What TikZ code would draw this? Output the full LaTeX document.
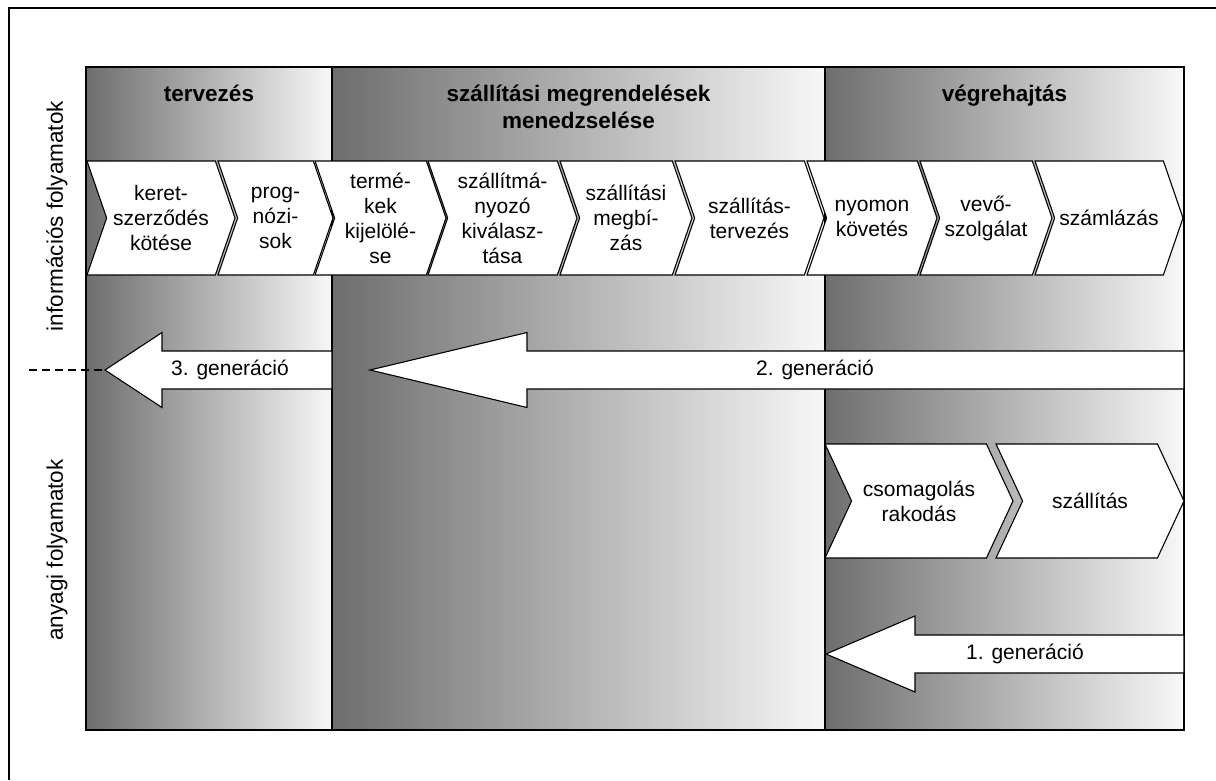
\documentclass[tikz,border=0pt]{standalone}
\usepackage{fontspec}
\setmainfont{Liberation Sans}
\usetikzlibrary{shapes.symbols,positioning}

\newcommand{\procfont}{\fontsize{21}{25}\selectfont}
\newcommand{\bigfont}{\fontsize{22.5}{27}\selectfont}

\begin{document}
\begin{tikzpicture}[x=1pt,y=-1pt,
      column_bg/.style={
         draw=black,
         line width=1.3pt,
         left color=black!57,
         right color=white!97!black,
         inner sep=0pt,
         outer sep=0pt,
         minimum height=663pt,
         anchor=north west},
      chevron/.style={
         signal,
         signal from=west,
         signal to=east,
         signal pointer angle=142,
         draw=black,
         fill=white,
         line width=1.1pt,
         minimum height=114pt,
         inner sep=0pt,
         align=center,
         font=\procfont},
      title/.style={
         font=\bigfont\bfseries,
         align=center,
         inner sep=0pt},
      gen_arrow/.style={
         draw=black,
         fill=white,
         line width=1.1pt},
      gen_label/.style={
         font=\procfont,
         inner sep=0pt},
      side_label/.style={
         font=\bigfont,
         rotate=90,
         inner sep=0pt}
]
      \useasboundingbox (0,0) rectangle (1216,780);

      % frame
      \draw[line width=2pt] (9,780) -- (9,8) -- (1216,8);

      % columns
      \node[column_bg,minimum width=246pt] (col1) at (86,67) {};
      \node[column_bg,minimum width=493pt,right=0pt of col1] (col2) {};
      \node[column_bg,minimum width=359pt,right=0pt of col2] (col3) {};

      \node[title,below=18pt of col1.north] (t1) {tervezés};
      \node[title,below=18pt of col2.north] (t2) {szállítási megrendelések\\menedzselése};
      \node[title,below=18pt of col3.north] (t3) {végrehajtás};

      % information flow
      \foreach \x/\w/\n/\txt in {% centre/width/name/text
        161/148/k1/{keret-\\szerződés\\kötése},
        275.5/115/k2/{prog-\\nózi-\\sok},
        380.5/131/k3/{termé-\\kek\\kijelölé-\\se},
        502.5/149/k4/{szállítmá-\\nyozó\\kiválasz-\\tása},
        626/132/k5/{szállítási\\megbí-\\zás},
        749.5/149/k6/{szállítás-\\tervezés},
        872/130/k7/{nyomon\\követés},
        986/132/k8/{vevő-\\szolgálat},
        1109/148/k9/{számlázás}}
      \node[chevron,minimum width=\w pt] (\n) at (\x,218) {\txt};

      % material flow
      \node[chevron,signal pointer angle=130,minimum width=188pt] (m1) at (919,501) {csomagolás\\rakodás};
      \node[chevron,signal pointer angle=130,minimum width=188pt] (m2) at (1090,501) {szállítás};

      % generations
      \foreach \tip/\back/\stop/\y/\hh in {% tip/head end/shaft end/y/half head
        105/162/332/370/37.5,
        370/527/1184/370/37.5,
        826/915/1184/654/38}
      \draw[gen_arrow] (\tip,\y) -- (\back,\y-\hh) -- (\back,\y-19) -- (\stop,\y-19)
        -- (\stop,\y+19) -- (\back,\y+19) -- (\back,\y+\hh) -- cycle;

      \node[gen_label] (g3) at (230,370) {3. generáció};
      \node[gen_label] (g2) at (815,370) {2. generáció};
      \node[gen_label] (g1) at (1025,654) {1. generáció};

      \coordinate (g3tip) at (105,370);
      \coordinate (cut) at (29,370);
      \draw[line width=1.1pt,dash pattern=on 8pt off 5pt] (cut) -- (g3tip);

      \node[side_label] (info) at (57,216) {információs folyamatok};
      \node[side_label] (mat) at (57,550) {anyagi folyamatok};

\end{tikzpicture}
\end{document}
